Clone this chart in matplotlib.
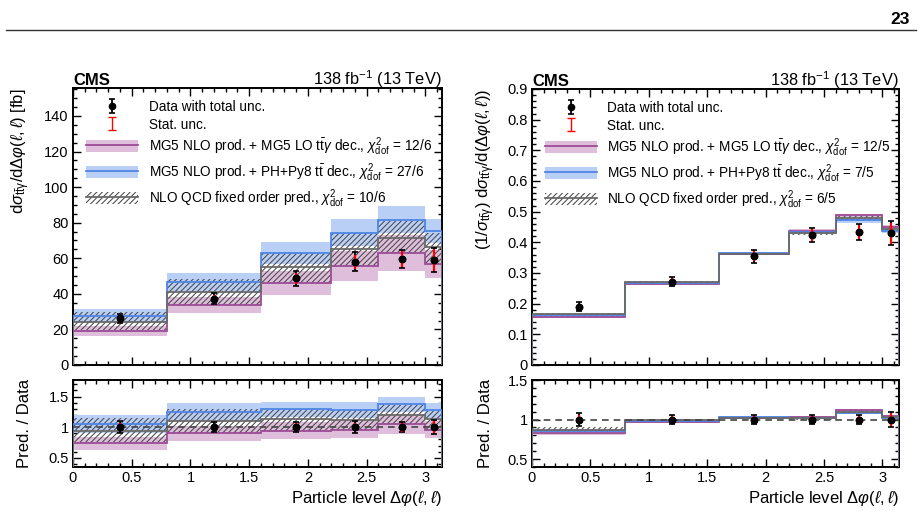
import numpy as np
import matplotlib
matplotlib.use('Agg')
import matplotlib.pyplot as plt
from matplotlib.patches import Patch
from matplotlib.lines import Line2D
from matplotlib.ticker import MultipleLocator, FuncFormatter

plt.rcParams['font.family'] = ['Liberation Sans', 'DejaVu Sans']
plt.rcParams['mathtext.fontset'] = 'custom'
plt.rcParams['mathtext.rm'] = 'Liberation Sans'
plt.rcParams['mathtext.it'] = 'Liberation Sans:italic'
plt.rcParams['mathtext.bf'] = 'Liberation Sans:bold'
plt.rcParams['hatch.linewidth'] = 0.75

# Binning in particle level delta phi(l,l)
EDGES = [0, 0.8, 1.6, 2.2, 2.6, 3.0, np.pi]
DATA_X = [0.4, 1.2, 1.9, 2.4, 2.8, 3.07]

# Absolute cross section [fb]
abs_data = [26.2, 37.3, 48.7, 58.1, 59.6, 59.0]
abs_tot = [2.6, 3.0, 4.2, 5.4, 5.0, 6.5]
abs_stat = [1.8, 2.2, 3.0, 4.0, 4.3, 6.0]

abs_mg5lo = [19.3, 33.5, 45.9, 55.6, 62.8, 56.6]
abs_mg5lo_lo = [16.5, 29.0, 39.2, 47.4, 52.8, 48.7]
abs_mg5lo_hi = [22.2, 38.0, 52.6, 63.8, 72.8, 64.5]

abs_ph = [27.7, 46.5, 62.8, 74.4, 81.7, 75.1]
abs_ph_lo = [23.8, 41.1, 56.6, 66.9, 74.0, 68.3]
abs_ph_hi = [31.6, 51.9, 69.0, 81.9, 89.4, 81.9]

abs_nlo = [24.4, 40.9, 54.9, 65.2, 71.6, 66.5]
abs_nlo_lo = [19.7, 33.5, 46.0, 55.6, 62.8, 56.0]
abs_nlo_hi = [30.0, 48.3, 62.8, 74.4, 81.0, 74.4]

# Normalised cross section
norm_data = [0.190, 0.272, 0.355, 0.424, 0.434, 0.429]
norm_tot = [0.0147, 0.015, 0.021, 0.024, 0.027, 0.039]
norm_stat = [0.010, 0.011, 0.016, 0.020, 0.022, 0.035]

norm_mg5lo = [0.157, 0.265, 0.362, 0.438, 0.488, 0.450]
norm_mg5lo_lo = [0.153, 0.261, 0.359, 0.434, 0.483, 0.445]
norm_mg5lo_hi = [0.161, 0.269, 0.365, 0.442, 0.493, 0.455]

norm_ph = [0.162, 0.268, 0.365, 0.433, 0.472, 0.438]
norm_ph_lo = [0.157, 0.264, 0.361, 0.427, 0.464, 0.430]
norm_ph_hi = [0.167, 0.272, 0.369, 0.439, 0.480, 0.446]

norm_nlo = [0.165, 0.270, 0.362, 0.430, 0.478, 0.445]
norm_nlo_lo = [0.159, 0.265, 0.358, 0.424, 0.471, 0.438]
norm_nlo_hi = [0.171, 0.275, 0.366, 0.436, 0.485, 0.452]

PURPLE_FILL = '#dfbedc'
PURPLE_LINE = '#9c4c96'
BLUE_FILL = '#b9cff6'
BLUE_LINE = '#4f85e6'
GRAY_HATCH = '#4a4a4a'
GRAY_LINE = '#6a6a6a'

LEG_MG5LO = r'MG5 NLO prod. + MG5 LO t$\bar{\rm t}\gamma$ dec., $\chi^{2}_{\rm dof}$ = '
LEG_PH = r'MG5 NLO prod. + PH+Py8 t$\bar{\rm t}$ dec., $\chi^{2}_{\rm dof}$ = '
LEG_NLO = r'NLO QCD fixed order pred., $\chi^{2}_{\rm dof}$ = '

fmt_g = FuncFormatter(lambda v, p: f'{v:g}')


def style_axis(ax, ymaj, ymin):
    ax.set_xlim(0, np.pi)
    ax.xaxis.set_major_locator(MultipleLocator(0.5))
    ax.xaxis.set_minor_locator(MultipleLocator(0.1))
    ax.yaxis.set_major_locator(MultipleLocator(ymaj))
    ax.yaxis.set_minor_locator(MultipleLocator(ymin))
    ax.xaxis.set_major_formatter(fmt_g)
    ax.yaxis.set_major_formatter(fmt_g)
    ax.tick_params(which='both', direction='in', top=True, right=True,
                   labelsize=10.5, width=1.0, pad=3)
    ax.tick_params(which='major', length=6)
    ax.tick_params(which='minor', length=3.2)
    for s in ax.spines.values():
        s.set_linewidth(1.4)


def draw_models(ax, models, scale):
    for cen, lo, hi, fill, line, hatched in models:
        lo = np.array(lo) / scale
        hi = np.array(hi) / scale
        if hatched:
            ax.stairs(hi, EDGES, baseline=lo, fill=True, facecolor='none',
                      edgecolor=GRAY_HATCH, hatch='//////', linewidth=0, zorder=3)
        else:
            ax.stairs(hi, EDGES, baseline=lo, fill=True, color=fill,
                      linewidth=0, zorder=2)
    for cen, lo, hi, fill, line, hatched in models:
        ax.stairs(np.array(cen) / scale, EDGES, color=line, linewidth=1.3, zorder=4)


def draw_data(ax, y, tot, stat):
    h = ax.errorbar(DATA_X, y, yerr=tot, fmt='o', color='k', ms=4.5,
                    capsize=2.2, elinewidth=1.3, capthick=1.2, zorder=6)
    ax.errorbar(DATA_X, y, yerr=stat, fmt='none', ecolor='red',
                elinewidth=1.6, capsize=0, zorder=7)
    ax.plot(DATA_X, y, 'o', color='k', ms=4.5, zorder=8)
    return h


def panel(ax, axr, data, tot, stat, models, ylim, ymaj, ymin, rlim,
          chi2, ylabel, ylabel_x, rlabel_x):
    draw_models(ax, models, 1.0)
    h_data = draw_data(ax, data, tot, stat)
    h_stat = ax.errorbar([np.nan], [np.nan], yerr=[1.0], fmt='none', ecolor='red',
                         elinewidth=1.0, capsize=3, capthick=1.0)
    ax.set_ylim(*ylim)
    style_axis(ax, ymaj, ymin)
    ax.tick_params(labelbottom=False)

    handles = [
        h_data, h_stat,
        (Patch(facecolor=PURPLE_FILL, edgecolor='none'), Line2D([], [], color=PURPLE_LINE, lw=1.3)),
        (Patch(facecolor=BLUE_FILL, edgecolor='none'), Line2D([], [], color=BLUE_LINE, lw=1.3)),
        (Patch(facecolor='none', edgecolor=GRAY_HATCH, hatch='//////', lw=0), Line2D([], [], color=GRAY_LINE, lw=1.3)),
    ]
    labels = ['Data with total unc.', 'Stat. unc.',
              LEG_MG5LO + chi2[0], LEG_PH + chi2[1], LEG_NLO + chi2[2]]
    ax.legend(handles, labels, loc='upper left', bbox_to_anchor=(0.035, 0.955),
              frameon=False, fontsize=9.8, handlelength=3.8, handleheight=1.0,
              handletextpad=0.8, labelspacing=0.25, borderpad=0, borderaxespad=0)

    ax.text(0.0, 1.012, 'CMS', transform=ax.transAxes, fontsize=12,
            fontweight='bold', ha='left', va='baseline')
    ax.text(1.0, 1.012, r'138 fb$^{-1}$ (13 TeV)', transform=ax.transAxes,
            fontsize=11.8, ha='right', va='baseline')
    ax.set_ylabel(ylabel, fontsize=12, loc='top')
    ax.yaxis.set_label_coords(ylabel_x, 1.0)

    # ratio panel
    d = np.array(data)
    draw_models(axr, models, d)
    draw_data(axr, np.ones(len(d)), np.array(tot) / d, np.array(stat) / d)
    axr.axhline(1.0, color='#444444', ls=(0, (4, 3)), lw=1.2, zorder=5)
    axr.set_ylim(*rlim)
    style_axis(axr, 0.5, 0.1)
    axr.set_ylabel('Pred. / Data', fontsize=12)
    axr.yaxis.set_label_coords(rlabel_x, 0.5)
    axr.set_xlabel(r'Particle level $\Delta\varphi(\ell,\ell)$', fontsize=12, loc='right', labelpad=3)


fig = plt.figure(figsize=(9.2, 5.16), dpi=100)
W, H = 920.0, 516.0
ax1 = fig.add_axes([73 / W, 1 - 365 / H, 369 / W, 277 / H])
ax1r = fig.add_axes([73 / W, 1 - 467 / H, 369 / W, 87 / H])
ax2 = fig.add_axes([532 / W, 1 - 365 / H, 367 / W, 276 / H])
ax2r = fig.add_axes([532 / W, 1 - 467 / H, 367 / W, 87 / H])

models_abs = [
    (abs_mg5lo, abs_mg5lo_lo, abs_mg5lo_hi, PURPLE_FILL, PURPLE_LINE, False),
    (abs_ph, abs_ph_lo, abs_ph_hi, BLUE_FILL, BLUE_LINE, False),
    (abs_nlo, abs_nlo_lo, abs_nlo_hi, None, GRAY_LINE, True),
]
models_norm = [
    (norm_mg5lo, norm_mg5lo_lo, norm_mg5lo_hi, PURPLE_FILL, PURPLE_LINE, False),
    (norm_ph, norm_ph_lo, norm_ph_hi, BLUE_FILL, BLUE_LINE, False),
    (norm_nlo, norm_nlo_lo, norm_nlo_hi, None, GRAY_LINE, True),
]

panel(ax1, ax1r, abs_data, abs_tot, abs_stat, models_abs, (0, 155.7), 20, 5,
      (0.35, 1.77), ['12/6', '27/6', '10/6'],
      r'd$\sigma_{\rm t\bar{t}\gamma}$/d$\Delta\varphi(\ell,\ell)$ [fb]', -0.112, -0.112)
panel(ax2, ax2r, norm_data, norm_tot, norm_stat, models_norm, (0, 0.9), 0.1, 0.02,
      (0.4, 1.5), ['12/5', '7/5', '6/5'],
      r'(1/$\sigma_{\rm t\bar{t}\gamma}$) d$\sigma_{\rm t\bar{t}\gamma}$/d($\Delta\varphi(\ell,\ell)$)',
      -0.095, -0.106)

# page header
fig.text(910 / W, 1 - 24 / H, '23', fontsize=12.5, fontweight='bold', ha='right', va='baseline')
fig.add_artist(Line2D([6 / W, 916 / W], [1 - 30 / H, 1 - 30 / H], color='#333333', lw=1.0))

fig.savefig('out.png', dpi=100)
